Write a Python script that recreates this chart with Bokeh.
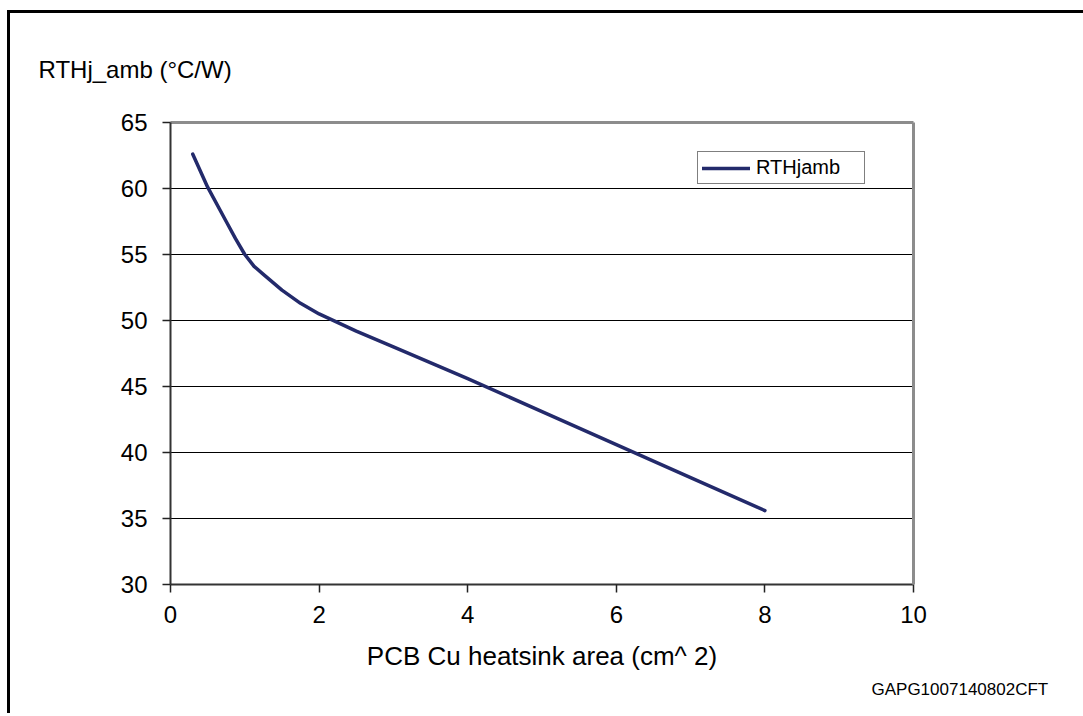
from bokeh.plotting import figure
from bokeh.models import Range1d, FixedTicker, LinearAxis, Legend, LegendItem, Title
from bokeh.layouts import column
from bokeh.embed import file_html
from bokeh.resources import INLINE

# ---- data ----
area_cm2 = [0.3, 0.5, 0.75, 0.875, 1.0, 1.125, 1.25, 1.5, 1.75, 2.0, 2.5, 3.0, 4.0, 5.0, 6.0, 7.0, 8.0]
rth_j_amb = [62.6, 60.1, 57.5, 56.2, 55.0, 54.1, 53.5, 52.3, 51.3, 50.5, 49.2, 48.0, 45.6, 43.1, 40.6, 38.1, 35.6]
x_ticks = [0, 2, 4, 6, 8, 10]
y_ticks = [30, 35, 40, 45, 50, 55, 60, 65]
series_name = "RTHjamb"
y_title = "RTHj_amb (°C/W)"
x_title = "PCB Cu heatsink area (cm^ 2)"
doc_code = "GAPG1007140802CFT"

FONT = "Liberation Sans"
LINE_COLOR = "#232a6b"

p = figure(width=1073, height=700,
           x_range=Range1d(0, 10), y_range=Range1d(30, 65),
           output_backend="svg", toolbar_location=None,
           min_border_left=160, min_border_top=109,
           min_border_right=170, min_border_bottom=129)
p.background_fill_color = "white"
p.border_fill_color = "white"
p.outline_line_color = None

r = p.line(area_cm2, rth_j_amb, line_color=LINE_COLOR, line_width=3.5,
           line_join="round", line_cap="round")

# axes
for ax in (p.xaxis[0], p.yaxis[0]):
    ax.major_label_text_font = FONT
    ax.major_label_text_font_size = "24px"
    ax.major_label_text_color = "black"
    ax.major_tick_out = 8
    ax.major_tick_in = 0
    ax.minor_tick_line_color = None
    ax.major_tick_line_color = "#222222"
    ax.major_tick_line_width = 1.5
    ax.axis_line_color = "#333333"
    ax.axis_line_width = 2

p.xaxis.ticker = FixedTicker(ticks=x_ticks)
p.yaxis.ticker = FixedTicker(ticks=y_ticks)
p.xaxis.major_label_standoff = 13
p.yaxis.major_label_standoff = 15
p.xaxis.axis_label = x_title
p.xaxis.axis_label_text_font = FONT
p.xaxis.axis_label_text_font_size = "26px"
p.xaxis.axis_label_text_font_style = "normal"
p.xaxis.axis_label_text_color = "black"
p.xaxis.axis_label_standoff = 15

p.xgrid.visible = False
p.ygrid.ticker = FixedTicker(ticks=y_ticks)
p.ygrid.grid_line_color = "black"
p.ygrid.grid_line_width = 1

# grey border on top and right of the plot area
for place in ("above", "right"):
    b = LinearAxis(ticker=FixedTicker(ticks=[]),
                   axis_line_color="#8c8c8c", axis_line_width=3,
                   major_tick_out=0, major_tick_in=0, major_label_standoff=0,
                   major_tick_line_color=None, minor_tick_line_color=None,
                   major_label_text_font_size="0px")
    p.add_layout(b, place)

legend = Legend(items=[LegendItem(label=series_name, renderers=[r])],
                location=(527, 400),
                border_line_color="black", border_line_width=1,
                padding=4, margin=0, spacing=0,
                glyph_width=48, glyph_height=20,
                label_standoff=6, label_width=104, label_height=20,
                label_text_font=FONT, label_text_font_size="20px",
                label_text_color="black",
                background_fill_color="white", background_fill_alpha=1)
p.add_layout(legend, "center")

# y quantity label (top-left, horizontal)
p.title.text = y_title
p.title.align = "left"
p.title.offset = -132
p.title.standoff = 79
p.title.text_font = FONT
p.title.text_font_size = "24px"
p.title.text_font_style = "normal"
p.title.text_color = "black"

# document code at bottom right
p.add_layout(Title(text=doc_code, align="left", offset=701, standoff=8,
                   text_font=FONT, text_font_size="17px",
                   text_font_style="normal", text_color="black"), "below")

layout = column(p, margin=(10, 0, 0, 7),
                styles={"border-top": "3px solid black",
                        "border-left": "3px solid black"})

open("out.html", "w").write(file_html(layout, INLINE))
